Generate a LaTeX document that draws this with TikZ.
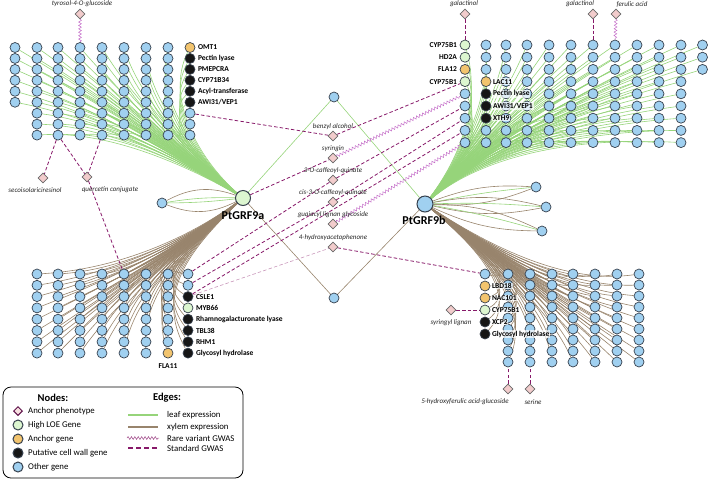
\documentclass[tikz,border=0pt]{standalone}
\usepackage{fontspec}
\setmainfont{Carlito}
\usetikzlibrary{shapes.geometric,decorations.pathmorphing,calc}
\pgfdeclarelayer{bg}
\pgfsetlayers{bg,main}
\definecolor{nblue}{RGB}{160,208,240}
\definecolor{ngreen}{RGB}{220,246,208}
\definecolor{norange}{RGB}{242,196,110}
\definecolor{nblack}{RGB}{22,22,22}
\definecolor{nline}{RGB}{55,65,78}
\definecolor{dfill}{RGB}{242,204,204}
\definecolor{dline}{RGB}{105,105,105}
\definecolor{leafc}{RGB}{150,212,122}
\definecolor{xylc}{RGB}{152,132,108}
\definecolor{gwasc}{RGB}{135,25,105}
\definecolor{rarec}{RGB}{196,110,200}
\begin{document}
\begin{tikzpicture}[x=1pt,y=-1pt,
 gene/.style={circle,draw=nline,line width=0.7pt,minimum size=10pt,inner sep=0pt},
 gb/.style={gene,fill=nblue},
 pheno/.style={diamond,draw=dline,fill=dfill,line width=0.6pt,minimum size=10pt,inner sep=0pt},
 glab/.style={font=\fontsize{7.5}{8}\selectfont\bfseries,inner sep=0.8pt},
 wlab/.style={glab,fill=white,fill opacity=0.7,text opacity=1},
 mlab/.style={font=\fontsize{7}{8}\selectfont\itshape,inner sep=0pt,text=black!85},
 hublab/.style={font=\fontsize{12}{13}\selectfont\bfseries,inner sep=0pt},
 leaf/.style={draw=leafc,line width=0.6pt},
 xyl/.style={draw=xylc,line width=0.6pt},
 gwas/.style={draw=gwasc,dash pattern=on 3.5pt off 2.2pt,line width=0.8pt},
 gwaslight/.style={draw=gwasc!45,dash pattern=on 3.5pt off 2.2pt,line width=0.6pt},
 rare/.style={draw=rarec,line width=0.5pt,decorate,decoration={snake,segment length=3.4pt,amplitude=1.4pt}},
 legtxt/.style={font=\fontsize{8.8}{10}\selectfont,anchor=west,inner sep=0pt},
 leghead/.style={font=\fontsize{10.5}{12}\selectfont\bfseries,inner sep=0pt}
]
\useasboundingbox (0,0) rectangle (708,480);

% ---------------- hubs ----------------
\node[gene,fill=ngreen,minimum size=15pt,line width=1pt] (GA) at (243,198) {};
\node[hublab] (GAl) at (243,216) {PtGRF9a};
\node[gb,minimum size=16pt,line width=1pt] (GB) at (425,204) {};
\node[hublab] (GBl) at (424,220) {PtGRF9b};
\node[gb] (L1) at (162,203) {};
\node[gb] (R1) at (536,187) {};
\node[gb] (R2) at (546,207) {};
\node[gb] (R3) at (542,231) {};
\node[gb] (Ct) at (334,97) {};
\node[gb] (Cb) at (334,298) {};

% ---------------- top-left grid ----------------
\foreach \c/\x/\n in {1/15/6,2/37/9,3/58/9,4/80/9,5/102/9,6/124/9,7/146/9,8/168/9}
  \foreach \r in {1,...,\n}
    \node[gb] (tl-\c-\r) at (\x,{47.5+10.95*(\r-1)}) {};
\foreach \r/\f in {1/norange,2/nblack,3/nblack,4/nblack,5/nblack,6/nblack,7/nblue,8/nblue,9/nblue}
  \node[gene,fill=\f] (tl-9-\r) at (190,{47.5+10.95*(\r-1)}) {};
\foreach \r/\t in {1/OMT1,2/Pectin lyase,3/PMEPCRA,4/CYP71B34,5/Acyl-transferase,6/{AWI31/VEP1}}
  \node[glab,anchor=west] (tll-\r) at (197,{47.5+10.95*(\r-1)}) {\t};

% ---------------- top-right grid ----------------
\foreach \r/\f in {1/ngreen,2/ngreen,3/norange,4/ngreen,5/nblue,6/nblue,7/nblue,8/nblue,9/nblue}
  \node[gene,fill=\f] (tr-1-\r) at (465,{45+12.2*(\r-1)}) {};
\foreach \r/\f in {1/nblue,2/nblue,3/nblue,4/norange,5/nblack,6/nblack,7/nblack,8/nblue,9/nblue}
  \node[gene,fill=\f] (tr-2-\r) at (486,{45+12.2*(\r-1)}) {};
\foreach \c/\x/\n in {3/506/9,4/527/9,5/549/9,6/571/9,7/593/9,8/615/9,9/637/9,10/659/9,11/681/9,12/702.5/3}
  \foreach \r in {1,...,\n}
    \node[gb] (tr-\c-\r) at (\x,{45+12.2*(\r-1)}) {};
\foreach \r/\t in {1/CYP75B1,2/HD2A,3/FLA12,4/CYP75B1}
  \node[glab,anchor=east] (trl-\r) at (458,{45+12.2*(\r-1)}) {\t};
\foreach \r/\t in {4/LAC11,5/Pectin lyase,6/{AWI31/VEP1},7/XTH9}
  \node[wlab,anchor=west] (trr-\r) at (492,{45+12.2*(\r-1)}) {\t};

% ---------------- bottom-left grid ----------------
\foreach \c/\x in {1/37,2/58,3/80,4/102,5/124,6/146}
  \foreach \r in {1,...,8}
    \node[gb] (bl-\c-\r) at (\x,{274+11.3*(\r-1)}) {};
\foreach \r/\f in {1/nblue,2/nblue,3/nblue,4/nblue,5/nblue,6/nblue,7/nblue,8/norange}
  \node[gene,fill=\f] (bl-7-\r) at (168,{274+11.3*(\r-1)}) {};
\foreach \r/\f in {1/nblue,2/nblue,3/nblack,4/ngreen,5/nblack,6/nblack,7/nblack,8/nblack}
  \node[gene,fill=\f] (bl-8-\r) at (188,{274+11.3*(\r-1)}) {};
\foreach \r/\t in {3/CSLE1,4/MYB66,5/Rhamnogalacturonate lyase,6/TBL38,7/RHM1,8/Glycosyl hydrolase}
  \node[glab,anchor=west] (bll-\r) at (195,{274+11.3*(\r-1)}) {\t};
\node[glab] (fla11) at (168,366) {FLA11};

% ---------------- bottom-right grid ----------------
\foreach \r/\f in {1/nblue,2/norange,3/norange,4/ngreen,5/nblack,6/nblack}
  \node[gene,fill=\f] (br-1-\r) at (485,{274+12*(\r-1)}) {};
\foreach \c/\x in {2/508,3/530,4/552,5/573,6/595,7/617,8/639}
  \foreach \r in {1,...,9}
    \node[gb] (br-\c-\r) at (\x,{274+11*(\r-1)}) {};
\foreach \r/\t in {2/LBD18,3/NAC101,4/CYP75B1,5/XCP2,6/Glycosyl hydrolase}
  \node[wlab,anchor=west] (brl-\r) at (491,{274+12*(\r-1)}) {\t};

% ---------------- phenotypes ----------------
\node[pheno] (tyr) at (80,14) {};
\node[mlab] at (82,4) {tyrosol-4-O-glucoside};
\node[pheno] (seco) at (43,178) {};
\node[mlab] at (35,190) {secoisolariciresinol};
\node[pheno] (quer) at (87,177) {};
\node[mlab] at (110,190) {quercetin conjugate};
\node[pheno] (gal1) at (465,14) {};
\node[mlab] at (464,4) {galactinol};
\node[pheno] (gal2) at (593,14) {};
\node[mlab] at (580,4) {galactinol};
\node[pheno] (fer) at (616,14) {};
\node[mlab] at (632,4) {ferulic acid};
\node[pheno] (benz) at (333,136) {};
\node[mlab] at (333,127) {benzyl alcohol};
\node[pheno] (syr) at (333,158) {};
\node[mlab] at (333,149) {syringin};
\node[pheno] (caf) at (333,180) {};
\node[mlab] at (333,171) {3-O-caffeoyl-quinate};
\node[pheno] (ciscaf) at (333,202) {};
\node[mlab] at (333,193) {cis-3-O-caffeoyl-quinate};
\node[pheno] (guai) at (333,224) {};
\node[mlab] at (333,215) {guaiacyl lignan glycoside};
\node[pheno] (hyd) at (333,247) {};
\node[mlab] at (333,238) {4-hydroxyacetophenone};
\node[pheno] (syrl) at (451,310) {};
\node[mlab] at (451,323) {syringyl lignan};
\node[pheno] (hfa) at (508,389) {};
\node[mlab] at (465,402) {5-hydroxyferulic acid-glucoside};
\node[pheno] (ser) at (530,389) {};
\node[mlab] at (533,402) {serine};

% ---------------- edges ----------------
\begin{pgfonlayer}{bg}
% top-left leaf bundle
\foreach \c/\n in {1/6,2/9,3/9,4/9,5/9,6/9,7/9,8/9,9/9}
  \foreach \r in {1,...,\n}
    \draw[leaf] (GA) .. controls ($(202,170)!0.07!(tl-\c-\r)$) and ($(150,128)!0.35!(tl-\c-\r)$) .. (tl-\c-\r);
% top-right leaf bundle
\foreach \c/\n in {1/9,2/9,3/9,4/9,5/9,6/9,7/9,8/9,9/9,10/9,11/9,12/3}
  \foreach \r in {1,...,\n}
    \draw[leaf] (GB) .. controls ($(464,160)!0.07!(tr-\c-\r)$) and ($(490,132)!0.4!(tr-\c-\r)$) .. (tr-\c-\r);
% bottom-left xylem bundle
\foreach \c in {1,...,8}
  \foreach \r in {1,...,8}
    \draw[xyl] (GA) .. controls ($(190,242)!0.07!(bl-\c-\r)$) and ($(140,268)!0.3!(bl-\c-\r)$) .. (bl-\c-\r);
% bottom-right xylem bundle
\foreach \r in {1,...,6}
  \draw[xyl] (GB) .. controls ($(488,250)!0.07!(br-1-\r)$) and ($(530,285)!0.3!(br-1-\r)$) .. (br-1-\r);
\foreach \c in {2,...,8}
  \foreach \r in {1,...,9}
    \draw[xyl] (GB) .. controls ($(488,250)!0.07!(br-\c-\r)$) and ($(540,288)!0.3!(br-\c-\r)$) .. (br-\c-\r);
% small lenses
\draw[xyl] (GA) to[bend right=24] (L1);
\draw[xyl] (GA) to[bend left=24] (L1);
\draw[leaf] (GA) to[bend right=5] (L1);
\draw[leaf] (GA) to[bend left=3] (L1);
\foreach \n in {R1,R2,R3}{
  \draw[xyl] (GB) to[bend left=12] (\n);
  \draw[xyl] (GB) to[bend right=12] (\n);
  \draw[leaf] (GB) to[bend left=3] (\n);
}
% center diamond paths
\draw[leaf] (GA) -- (Ct);
\draw[leaf] (Ct) -- (GB);
\draw[xyl] (GA) -- (Cb);
\draw[xyl] (Cb) -- (GB);
% GWAS edges
\draw[rare] (tyr) -- (tl-4-1);
\draw[rare] (fer) -- (tr-8-1);
\draw[gwas] (gal1) -- (tr-1-1);
\draw[gwas] (gal2) -- (tr-7-1);
\draw[gwas] (tl-3-9) -- (seco);
\draw[gwas] (tl-3-9) -- (quer);
\draw[gwas] (tl-5-9) -- (quer);
\draw[gwas] (quer) -- (bl-5-1);
\draw[gwas] (tl-9-7) -- (benz);
\draw[gwas] (benz) -- (tr-1-4);
\draw[gwas] (GA) -- (syr);
\draw[rare] (syr) -- (tr-1-5);
\draw[gwas] (bl-8-1) -- (caf);
\draw[gwas] (caf) -- (tr-1-6);
\draw[gwas] (bl-8-2) -- (ciscaf);
\draw[gwas] (ciscaf) -- (tr-1-7);
\draw[gwas] (bl-8-3) -- (tr-1-8);
\draw[rare] (guai) -- (tr-1-9);
\draw[gwaslight] (bl-8-3) -- (hyd);
\draw[gwas] (hyd) -- (br-1-1);
\draw[gwas] (syrl) -- (br-1-4);
\draw[gwas] (hfa) -- (br-2-9);
\draw[gwas] (ser) -- (br-3-9);
\end{pgfonlayer}

% ---------------- legend ----------------
\draw[line width=0.8pt,rounded corners=8pt] (3,387) rectangle (243,478);
\node[leghead] (lgn) at (53,398) {Nodes:};
\node[leghead] (lge) at (167,398) {Edges:};
\node[diamond,draw=gwasc!70!black,fill=dfill!60,line width=1pt,minimum size=9pt,inner sep=0pt] (lk1) at (18,411) {};
\node[legtxt] at (28,411) {Anchor phenotype};
\node[gene,fill=ngreen,line width=1pt] (lk2) at (18,425) {};
\node[legtxt] at (28,425) {High LOE Gene};
\node[gene,fill=norange,line width=1pt] (lk3) at (18,439) {};
\node[legtxt] at (28,439) {Anchor gene};
\node[gene,fill=nblack,line width=1pt] (lk4) at (18,453) {};
\node[legtxt] at (28,453) {Putative cell wall gene};
\node[gene,fill=nblue,line width=1pt] (lk5) at (18,467) {};
\node[legtxt] at (28,467) {Other gene};
\coordinate (le1a) at (128,415); \coordinate (le1b) at (158,415);
\coordinate (le2a) at (128,427); \coordinate (le2b) at (158,427);
\coordinate (le3a) at (127,438); \coordinate (le3b) at (159,438);
\coordinate (le4a) at (128,448); \coordinate (le4b) at (158,448);
\draw[leafc,line width=1.3pt] (le1a) -- (le1b);
\draw[xylc,line width=1.3pt] (le2a) -- (le2b);
\draw[rare,draw=gwasc!80] (le3a) -- (le3b);
\draw[draw=gwasc,line width=1.2pt,dash pattern=on 5pt off 3pt] (le4a) -- (le4b);
\node[legtxt] at (167,415) {leaf expression};
\node[legtxt] at (167,427) {xylem expression};
\node[legtxt] at (167,438) {Rare variant GWAS};
\node[legtxt] at (167,448) {Standard GWAS};
\end{tikzpicture}
\end{document}
